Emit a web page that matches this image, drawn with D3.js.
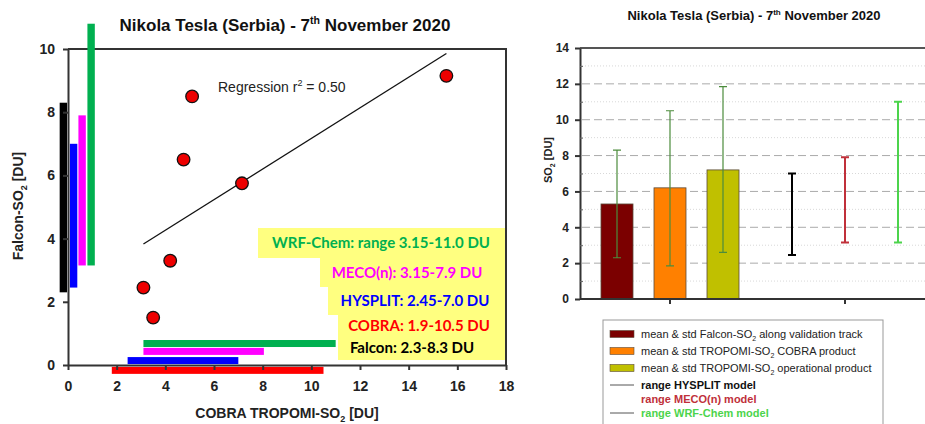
<!DOCTYPE html>
<html>
<head>
<meta charset="utf-8">
<script src="https://cdn.jsdelivr.net/npm/d3@7"></script>
<style>
	body { margin: 0; background: #fff; }
	svg { display: block; font-family: "Liberation Sans", Arial, sans-serif; }
	.ax path, .ax line { stroke: #333; stroke-width: 2; }
	.ax text { font-weight: bold; fill: #222; }
	.lbl { font-family: Lato, "Open Sans", sans-serif; font-weight: bold; font-size: 15px; }
</style>
</head>
<body>
<script>
// Left panel: Falcon vs COBRA scatter
const cobraX  = [3.1, 3.5, 4.2, 4.75, 5.1, 7.15, 15.55]
const falconY = [2.45, 1.5, 3.3, 6.5, 8.5, 5.75, 9.15]
const regSlope = 0.484, regIntercept = 2.33
const regExtent = [3.1, 15.55]

// vertical ranges (Falcon-SO2 axis)
const vNames = ['Falcon', 'HYSPLIT', 'MECO(n)', 'WRF-Chem']
const vMin   = [2.3, 2.45, 3.15, 3.15]
const vMax   = [8.3, 7.0, 7.9, 10.8]
// horizontal ranges (COBRA axis)
const hNames = ['COBRA', 'HYSPLIT', 'MECO(n)', 'WRF-Chem']
const hMin   = [1.8, 2.45, 3.1, 3.1]
const hMax   = [10.5, 7.0, 8.05, 11.0]

const boxTexts = ['WRF-Chem: range 3.15-11.0 DU', 'MECO(n): 3.15-7.9 DU', 'HYSPLIT: 2.45-7.0 DU', 'COBRA: 1.9-10.5 DU', 'Falcon: 2.3-8.3 DU']

// Right panel: means & std, model ranges
const barNames = ['Falcon', 'COBRA', 'Operational']
const barMean  = [5.3, 6.2, 7.2]
const barLow   = [2.3, 1.85, 2.6]
const barHigh  = [8.3, 10.5, 11.85]
const modelNames = ['HYSPLIT', 'MECO(n)', 'WRF-Chem']
const modelMin   = [2.45, 3.15, 3.15]
const modelMax   = [7.0, 7.9, 11.0]
const legendTexts = [
	['mean & std Falcon-SO', '2', ' along validation track'],
	['mean & std TROPOMI-SO', '2', ' COBRA product'],
	['mean & std TROPOMI-SO', '2', ' operational product'],
	['range HYSPLIT model'],
	['range MECO(n) model'],
	['range WRF-Chem model']
]

const svg = d3.select('body').append('svg').attr('width', 925).attr('height', 424)

function title(x, y, size) {
	const t = svg.append('text').attr('x', x).attr('y', y).attr('text-anchor', 'middle')
		.attr('font-weight', 'bold').attr('font-size', size).attr('fill', '#111')
	t.append('tspan').text('Nikola Tesla (Serbia) - 7')
	t.append('tspan').text('th').attr('font-size', size * 0.62).attr('dy', -size * 0.4)
	t.append('tspan').text(' November 2020').attr('dy', size * 0.4)
}

// ---------- left chart ----------
const xL = d3.scaleLinear([0, 18], [68, 506])
const yL = d3.scaleLinear([0, 10], [365, 49])
const gL = svg.append('g')

title(285, 31, 17)

// frame top & right
gL.append('path').attr('d', `M${xL(0)},${yL(10)}H${xL(18)}V${yL(0)}`)
	.attr('fill', 'none').attr('stroke', '#333').attr('stroke-width', 2)

// horizontal ranges
const hColors = ['#ff0000', '#0000ff', '#ff00ff', '#00b050']
const hPos = [-0.17, 0.14, 0.43, 0.68]
gL.selectAll('rect.h').data(hNames).enter().append('rect')
	.attr('x', (d, i) => xL(hMin[i]))
	.attr('width', (d, i) => xL(hMax[i]) - xL(hMin[i]))
	.attr('y', (d, i) => yL(hPos[i]) - 3.5)
	.attr('height', 7)
	.attr('fill', (d, i) => hColors[i])

// vertical ranges
const vColors = ['#000000', '#0000ff', '#ff00ff', '#00b050']
const vPos = [-0.19, 0.23, 0.58, 0.95]
gL.selectAll('rect.v').data(vNames).enter().append('rect')
	.attr('x', (d, i) => xL(vPos[i]) - 3.7)
	.attr('width', 7.4)
	.attr('y', (d, i) => yL(vMax[i]))
	.attr('height', (d, i) => yL(vMin[i]) - yL(vMax[i]))
	.attr('fill', (d, i) => vColors[i])

// axes
gL.append('g').attr('class', 'ax').attr('transform', `translate(0,${yL(0)})`)
	.call(d3.axisBottom(xL).tickValues(d3.range(0, 19, 2)).tickSize(5).tickPadding(11).tickSizeOuter(0))
	.call(g => g.selectAll('text').attr('font-size', 14))
gL.append('g').attr('class', 'ax').attr('transform', `translate(${xL(0)},0)`)
	.call(d3.axisLeft(yL).tickValues(d3.range(0, 11, 2)).tickSize(5).tickPadding(8).tickSizeOuter(0))
	.call(g => g.selectAll('text').attr('font-size', 14))

// regression line
gL.append('line')
	.attr('x1', xL(regExtent[0])).attr('y1', yL(regSlope * regExtent[0] + regIntercept))
	.attr('x2', xL(regExtent[1])).attr('y2', yL(regSlope * regExtent[1] + regIntercept))
	.attr('stroke', '#111').attr('stroke-width', 1.3)

const rt = gL.append('text').attr('x', 218).attr('y', 92).attr('font-size', 14).attr('fill', '#222')
rt.append('tspan').text('Regression r')
rt.append('tspan').text('2').attr('font-size', 9).attr('dy', -6)
rt.append('tspan').text(' = 0.50').attr('dy', 6)

// points
gL.selectAll('circle').data(cobraX).enter().append('circle')
	.attr('cx', d => xL(d))
	.attr('cy', (d, i) => yL(falconY[i]))
	.attr('r', 6.3)
	.attr('fill', '#ee0000').attr('stroke', '#111').attr('stroke-width', 1.3)

// label boxes
const boxes = [
	{ x: 258, y: 228, h: 30 },
	{ x: 320, y: 258, h: 29 },
	{ x: 328, y: 287, h: 28 },
	{ x: 338, y: 315, h: 45 }
]
gL.selectAll('rect.box').data(boxes).enter().append('rect')
	.attr('x', d => d.x).attr('y', d => d.y)
	.attr('width', d => 505 - d.x).attr('height', d => d.h)
	.attr('fill', '#ffff80')

const textPos = [[381, 248], [407, 278], [415, 306], [419, 331], [412, 353]]
const textCol = ['#00b050', '#ff00ff', '#0000ff', '#ff0000', '#000000']
gL.selectAll('text.lbl').data(boxTexts).enter().append('text')
	.attr('class', 'lbl')
	.attr('x', (d, i) => textPos[i][0]).attr('y', (d, i) => textPos[i][1])
	.attr('text-anchor', 'middle')
	.attr('fill', (d, i) => textCol[i])
	.text(d => d)

// right frame drawn again over boxes
gL.append('line').attr('x1', xL(18)).attr('x2', xL(18)).attr('y1', yL(10)).attr('y2', yL(0) + 1)
	.attr('stroke', '#333').attr('stroke-width', 2)

// axis titles
const yt = gL.append('text').attr('transform', 'translate(23,206) rotate(-90)')
	.attr('text-anchor', 'middle').attr('font-weight', 'bold').attr('font-size', 14).attr('fill', '#222')
yt.append('tspan').text('Falcon-SO')
yt.append('tspan').text('2').attr('font-size', 9).attr('dy', 4)
yt.append('tspan').text(' [DU]').attr('dy', -4)

const xt = gL.append('text').attr('x', 287).attr('y', 418)
	.attr('text-anchor', 'middle').attr('font-weight', 'bold').attr('font-size', 14).attr('fill', '#222')
xt.append('tspan').text('COBRA TROPOMI-SO')
xt.append('tspan').text('2').attr('font-size', 9).attr('dy', 4)
xt.append('tspan').text(' [DU]').attr('dy', -4)

// ---------- right chart ----------
const yR = d3.scaleLinear([0, 14], [299, 48])
const xGroup = d3.scaleBand(['obs', 'models'], [582.5, 932.5])
const xInner = d3.scalePoint([0, 1, 2], [-53, 53])
const gR = svg.append('g')

title(754, 20, 13)

// minor dotted grid
gR.selectAll('line.minor').data(d3.range(1, 14, 1).filter(v => v % 2)).enter().append('line')
	.attr('x1', 582).attr('x2', 925).attr('y1', d => yR(d)).attr('y2', d => yR(d))
	.attr('stroke', '#d8d8d8').attr('stroke-dasharray', '1,2')
// major dashed grid
gR.selectAll('line.major').data(d3.range(2, 13, 2)).enter().append('line')
	.attr('x1', 582).attr('x2', 925).attr('y1', d => yR(d)).attr('y2', d => yR(d))
	.attr('stroke', '#aaa').attr('stroke-dasharray', '8,4')

// frame top
gR.append('line').attr('x1', 580).attr('x2', 925).attr('y1', yR(14)).attr('y2', yR(14))
	.attr('stroke', '#555').attr('stroke-width', 2)

const gc0 = xGroup('obs') + xGroup.bandwidth() / 2
const gc1 = xGroup('models') + xGroup.bandwidth() / 2
const barColors = ['#7b0000', '#ff8000', '#c0c000']

gR.selectAll('rect.bar').data(barNames).enter().append('rect')
	.attr('x', (d, i) => gc0 + xInner(i) - 16)
	.attr('width', 32)
	.attr('y', (d, i) => yR(barMean[i]))
	.attr('height', (d, i) => yR(0) - yR(barMean[i]))
	.attr('fill', (d, i) => barColors[i])
	.attr('stroke', '#5a4a3a').attr('stroke-width', 0.8)

function errBar(g, cx, lo, hi, color, w) {
	g.append('path')
		.attr('d', `M${cx},${yR(lo)}V${yR(hi)}M${cx - 4},${yR(lo)}H${cx + 4}M${cx - 4},${yR(hi)}H${cx + 4}`)
		.attr('stroke', color).attr('stroke-width', w).attr('fill', 'none')
}
barNames.forEach((d, i) => errBar(gR, gc0 + xInner(i), barLow[i], barHigh[i], '#4c8c3c', 1.2))
const modelColors = ['#000000', '#c0303a', '#4cd44c']
modelNames.forEach((d, i) => errBar(gR, gc1 + xInner(i), modelMin[i], modelMax[i], modelColors[i], 2))

// axes
gR.append('g').attr('class', 'ax').attr('transform', `translate(0,${yR(0)})`)
	.call(d3.axisBottom(xGroup).tickSize(5).tickFormat('').tickSizeOuter(0))
	.call(g => g.select('.domain').attr('d', `M580,0H925`))
gR.append('g').attr('class', 'ax').attr('transform', 'translate(580,0)')
	.call(d3.axisLeft(yR).tickValues(d3.range(0, 15, 2)).tickSize(5).tickPadding(6).tickSizeOuter(0))
	.call(g => g.selectAll('text').attr('font-size', 12))
	.call(g => g.selectAll('.tick line').attr('stroke-width', 1.5))
// minor ticks inside
gR.append('g').attr('transform', 'translate(580,0)')
	.call(d3.axisRight(yR).tickValues(d3.range(1, 14, 2)).tickSize(3).tickFormat('').tickSizeOuter(0))
	.call(g => g.select('.domain').remove())
	.call(g => g.selectAll('line').attr('stroke', '#666'))

const yr = gR.append('text').attr('transform', 'translate(552,160) rotate(-90)')
	.attr('text-anchor', 'middle').attr('font-weight', 'bold').attr('font-size', 11).attr('fill', '#222')
yr.append('tspan').text('SO')
yr.append('tspan').text('2').attr('font-size', 7).attr('dy', 3)
yr.append('tspan').text(' [DU]').attr('dy', -3)

// legend
gR.append('rect').attr('x', 603).attr('y', 320).attr('width', 280).attr('height', 110)
	.attr('fill', '#fff').attr('stroke', '#999').attr('stroke-width', 1)
const legY = [334, 351, 368, 385, 399, 413]
const legTextCol = ['#222', '#222', '#222', '#111', '#c0303a', '#4cd44c']
legendTexts.forEach((parts, i) => {
	if (i < 3) {
		gR.append('rect').attr('x', 610).attr('y', legY[i] - 3.5).attr('width', 24).attr('height', 7)
			.attr('fill', barColors[i]).attr('stroke', '#5a4a3a').attr('stroke-width', 0.6)
	} else if (i !== 4) {
		gR.append('line').attr('x1', 610).attr('x2', 634).attr('y1', legY[i]).attr('y2', legY[i])
			.attr('stroke', '#555').attr('stroke-width', 1)
	}
	const t = gR.append('text').attr('x', 641).attr('y', legY[i] + 4).attr('font-size', 11)
		.attr('fill', legTextCol[i]).attr('font-weight', i >= 3 ? 'bold' : 'normal')
	t.append('tspan').text(parts[0])
	if (parts.length > 1) {
		t.append('tspan').text(parts[1]).attr('font-size', 7).attr('dy', 3)
		t.append('tspan').text(parts[2]).attr('dy', -3)
	}
})
</script>
</body>
</html>
